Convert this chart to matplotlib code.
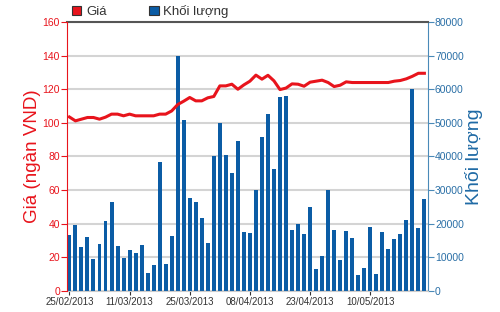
import matplotlib
matplotlib.use("Agg")
import matplotlib.pyplot as plt
from matplotlib.patches import Rectangle
import numpy as np

plt.rcParams['font.family'] = ['Liberation Sans', 'DejaVu Sans']

# phien giao dich tu 25/02/2013
tick_labels = ['25/02/2013', '11/03/2013', '25/03/2013', '08/04/2013', '23/04/2013', '10/05/2013']
tick_index = [0, 10, 20, 30, 40, 50]

gia = [103.5, 101.2, 102.2, 103.2, 103.2, 102.2, 103.4, 105.2, 105.2, 104.2,
       105.2, 104.2, 104.2, 104.2, 104.2, 105.2, 105.2, 107.1, 110.9, 112.9,
       115.1, 113.1, 113.1, 114.9, 115.7, 122.0, 122.0, 123.0, 120.0, 122.6,
       124.8, 128.4, 126.0, 128.3, 125.0, 119.8, 120.7, 123.2, 123.0, 121.8,
       124.2, 124.8, 125.4, 124.0, 121.6, 122.4, 124.4, 124.0, 124.0, 124.0,
       124.0, 124.0, 124.0, 124.0, 124.8, 125.2, 126.2, 127.7, 129.5, 129.5]

khoi_luong = [16750, 19500, 13000, 16000, 9400, 13900, 20800, 26600, 13500, 9900,
              12300, 11300, 13800, 5500, 7800, 38500, 8000, 16300, 70000, 51000,
              27600, 26600, 21800, 14400, 40000, 50000, 40500, 35200, 44600, 17600,
              17300, 30100, 45800, 52700, 36200, 57800, 58100, 18200, 19900, 17000,
              25000, 6500, 10300, 29900, 18000, 9300, 17700, 15700, 4900, 6900,
              19000, 5200, 17400, 12600, 15500, 17000, 21200, 60000, 18600, 27400]

red = '#e8141c'
blue = '#0b5ca5'
axis_blue = '#4a8ab8'
x = np.arange(len(gia))

fig = plt.figure(figsize=(5, 3.12), dpi=100)
ax2 = fig.add_axes([0.134, 0.0673, 0.722, 0.8622])
ax = ax2.twinx()
ax.yaxis.tick_left()
ax.yaxis.set_label_position('left')
ax2.yaxis.tick_right()
ax2.yaxis.set_label_position('right')

# cot khoi luong
ax2.bar(x, khoi_luong, width=0.66, color=blue, zorder=2)
ax2.set_ylim(0, 80000)
ax2.set_yticks(np.arange(0, 80001, 10000))
ax2.grid(axis='y', color='#d4d4d4', linewidth=1.5, zorder=0)
ax2.set_axisbelow(True)

# duong gia
ax.plot(x, gia, color=red, linewidth=2.2, zorder=3)
ax.set_ylim(0, 160)
ax.set_yticks(np.arange(0, 161, 20))
ax.set_zorder(ax2.get_zorder() + 1)
ax.patch.set_visible(False)

ax2.set_xlim(-0.4, 59.6)
ax2.set_xticks(tick_index)
ax2.set_xticklabels(tick_labels)

for a in (ax, ax2):
    for s in a.spines.values():
        s.set_visible(False)
ax.spines['left'].set_visible(True)
ax.spines['left'].set_color(red)
ax2.spines['right'].set_visible(True)
ax2.spines['right'].set_color(axis_blue)
ax2.spines['top'].set_visible(True)
ax2.spines['top'].set_color('#555555')
ax2.spines['top'].set_linewidth(1.5)
ax2.spines['bottom'].set_visible(True)
ax2.spines['bottom'].set_color('#cccccc')

ax.tick_params(axis='y', colors=red, labelsize=7.5, length=4, pad=1)
ax2.tick_params(axis='y', colors=axis_blue, labelcolor='#2a6fa6', labelsize=7.5, length=4, pad=1)
ax2.tick_params(axis='x', colors='#333333', labelsize=7, length=3, pad=1)

ax.set_ylabel('Giá (ngàn VND)', color=red, fontsize=13.5, labelpad=1)
ax2.set_ylabel('Khối lượng', color='#1f6aa5', fontsize=14, labelpad=1)

# chu thich
handles = [Rectangle((0, 0), 1, 1, facecolor=red, edgecolor='#333333', linewidth=0.8),
           Rectangle((0, 0), 1, 1, facecolor=blue, edgecolor='#333333', linewidth=0.8)]
fig.legend(handles, ['Giá', 'Khối lượng'], loc='lower left', bbox_to_anchor=(0.143, 0.942),
           ncol=2, frameon=False, fontsize=9.5, handlelength=0.75, handleheight=0.75,
           handletextpad=0.35, columnspacing=3.2, borderaxespad=0, borderpad=0,
           labelcolor='#333333')

fig.savefig('out.png', dpi=100)
